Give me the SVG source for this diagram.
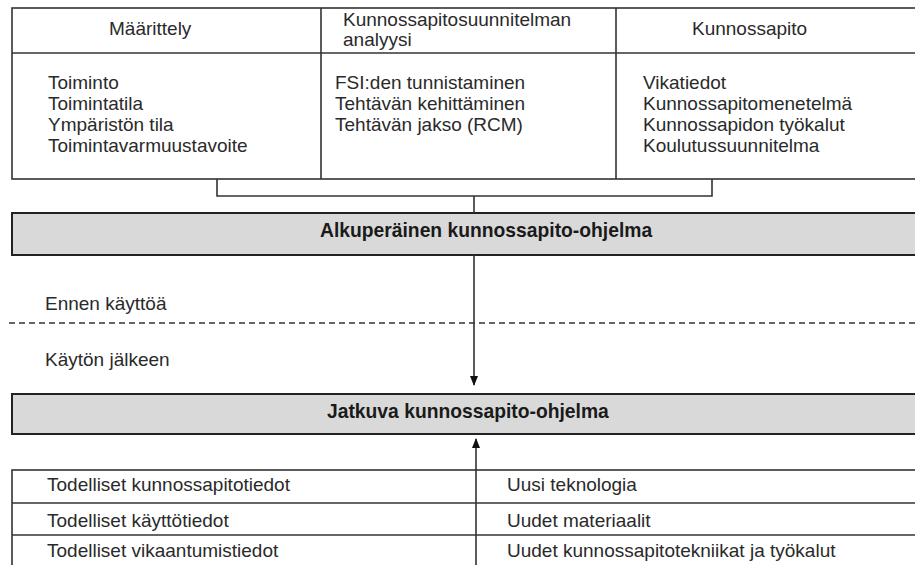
<svg xmlns="http://www.w3.org/2000/svg" width="915" height="565" viewBox="0 0 915 565">
<style>
.t{font-family:"Liberation Sans",Arial,sans-serif;font-size:19px;fill:#2a2a2a}
.b{font-family:"Liberation Sans",Arial,sans-serif;font-size:19.3px;font-weight:bold;fill:#1a1a1a}
.ln{fill:none;stroke:#333;stroke-width:1.6}
.box{fill:#fff;stroke:#333;stroke-width:1.6}
.gbox{fill:#d9d9d9;stroke:#222;stroke-width:2}
</style>
<defs>
<marker id="ah" markerWidth="10" markerHeight="10" refX="9" refY="5" orient="auto" markerUnits="userSpaceOnUse">
<path d="M0,1 L10,5 L0,9 Z" fill="#111"/>
</marker>
</defs>
<rect x="0" y="0" width="915" height="565" fill="#fff"/>

<g id="top-table">
<rect class="box" x="12" y="8" width="910" height="171"/>
<line class="ln" x1="12" y1="53" x2="915" y2="53"/>
<line class="ln" x1="321" y1="8" x2="321" y2="179"/>
<line class="ln" x1="616" y1="8" x2="616" y2="179"/>
<text class="t" x="109" y="35">Määrittely</text>
<text class="t" x="343" y="26">Kunnossapitosuunnitelman</text>
<text class="t" x="343" y="46">analyysi</text>
<text class="t" x="692" y="35">Kunnossapito</text>
<text class="t" x="48" y="89">Toiminto</text>
<text class="t" x="48" y="110">Toimintatila</text>
<text class="t" x="48" y="131">Ympäristön tila</text>
<text class="t" x="48" y="152">Toimintavarmuustavoite</text>
<text class="t" x="335" y="89">FSI:den tunnistaminen</text>
<text class="t" x="335" y="110">Tehtävän kehittäminen</text>
<text class="t" x="335" y="131">Tehtävän jakso (RCM)</text>
<text class="t" x="643" y="89">Vikatiedot</text>
<text class="t" x="643" y="110">Kunnossapitomenetelmä</text>
<text class="t" x="643" y="131">Kunnossapidon työkalut</text>
<text class="t" x="643" y="152">Koulutussuunnitelma</text>
</g>

<g id="initial-program">
<rect class="gbox" x="12" y="213" width="910" height="42"/>
<text class="b" x="320" y="237">Alkuperäinen kunnossapito-ohjelma</text>
</g>

<g id="phase-labels">
<text class="t" x="45" y="310">Ennen käyttöä</text>
<text class="t" x="45" y="366">Käytön jälkeen</text>
<line x1="9" y1="323" x2="915" y2="323" stroke="#333" stroke-width="1.5" stroke-dasharray="6,4"/>
</g>

<g id="continuous-program">
<rect class="gbox" x="12" y="394" width="910" height="40"/>
<text class="b" x="327" y="418">Jatkuva kunnossapito-ohjelma</text>
</g>

<g id="bottom-table">
<rect class="box" x="12" y="470" width="910" height="110"/>
<line class="ln" x1="12" y1="503" x2="915" y2="503"/>
<line class="ln" x1="12" y1="535" x2="915" y2="535"/>
<line class="ln" x1="476" y1="470" x2="476" y2="565"/>
<text class="t" x="47" y="491">Todelliset kunnossapitotiedot</text>
<text class="t" x="47" y="527">Todelliset käyttötiedot</text>
<text class="t" x="47" y="557">Todelliset vikaantumistiedot</text>
<text class="t" x="507" y="491">Uusi teknologia</text>
<text class="t" x="507" y="527">Uudet materiaalit</text>
<text class="t" x="507" y="557">Uudet kunnossapitotekniikat ja työkalut</text>
</g>

<g id="connectors">
<polyline class="ln" points="217,179 217,196 712,196 712,179"/>
<line class="ln" x1="474" y1="196" x2="474" y2="213"/>
<line class="ln" x1="474" y1="255" x2="474" y2="385" marker-end="url(#ah)"/>
<line class="ln" x1="476" y1="470" x2="476" y2="439" marker-end="url(#ah)"/>
</g>
</svg>
